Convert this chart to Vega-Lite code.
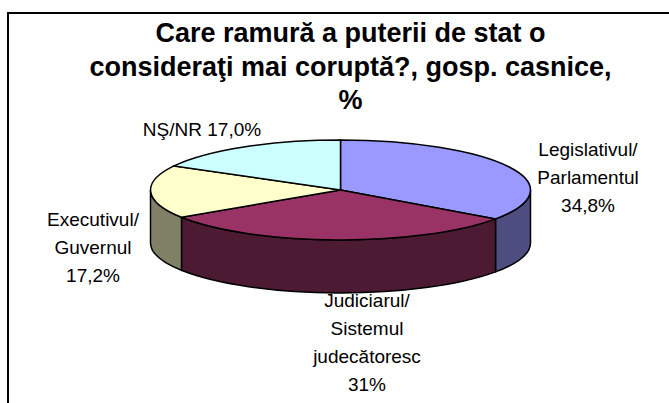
{"$schema":"https://vega.github.io/schema/vega-lite/v6.json","autosize":"none","padding":{"left":8,"top":13,"right":0,"bottom":0},"width":665,"height":400,"background":"white","view":{"stroke":"black","strokeWidth":2,"fill":"white"},"title":{"text":["Care ramură a puterii de stat o","consideraţi mai coruptă?, gosp. casnice,","%"],"font":"Liberation Sans","fontWeight":"bold","fontSize":27,"lineHeight":33.5,"color":"black","anchor":"middle","frame":"group","baseline":"alphabetic","dx":10,"dy":123,"offset":0},"data":{"values":[{"slice":"Legislativul/Parlamentul","value":34.8,"label":"Legislativul/\nParlamentul\n34,8%"},{"slice":"Judiciarul/Sistemul judecătoresc","value":31,"label":"Judiciarul/\nSistemul\njudecătoresc\n31%"},{"slice":"Executivul/Guvernul","value":17.2,"label":"Executivul/\nGuvernul\n17,2%"},{"slice":"NŞ/NR","value":17,"label":"NŞ/NR 17,0%"}]},"layer":[{"transform":[{"filter":"datum.slice==='Legislativul/Parlamentul'"}],"mark":{"type":"text","font":"Liberation Sans","fontSize":19,"lineHeight":28,"lineBreak":"\n","align":"center","baseline":"alphabetic","color":"black","dx":247.5,"dy":-57},"encoding":{"text":{"field":"label","type":"nominal"}}},{"transform":[{"filter":"datum.slice==='Judiciarul/Sistemul judecătoresc'"}],"mark":{"type":"text","font":"Liberation Sans","fontSize":19,"lineHeight":28,"lineBreak":"\n","align":"center","baseline":"alphabetic","color":"black","dx":26.5,"dy":94},"encoding":{"text":{"field":"label","type":"nominal"}}},{"transform":[{"filter":"datum.slice==='Executivul/Guvernul'"}],"mark":{"type":"text","font":"Liberation Sans","fontSize":19,"lineHeight":28,"lineBreak":"\n","align":"center","baseline":"alphabetic","color":"black","dx":-247.5,"dy":13},"encoding":{"text":{"field":"label","type":"nominal"}}},{"transform":[{"filter":"datum.slice==='NŞ/NR'"}],"mark":{"type":"text","font":"Liberation Sans","fontSize":19,"lineHeight":28,"lineBreak":"\n","align":"center","baseline":"alphabetic","color":"black","dx":-138.5,"dy":-77},"encoding":{"text":{"field":"label","type":"nominal"}}},{"transform":[{"filter":"datum.slice!=='NŞ/NR'"}],"mark":{"type":"point","filled":true,"opacity":1,"size":4,"stroke":"black","strokeWidth":1.5},"encoding":{"shape":{"field":"slice","type":"nominal","legend":null,"scale":{"domain":["Legislativul/Parlamentul","Judiciarul/Sistemul judecătoresc","Executivul/Guvernul"],"range":["M155,5.9A190,50,0,0,0,190,-23L190,30A190,50,0,0,1,155,58.9Z","M155,5.9A190,50,0,0,1,-159,4.3L-159,57.3A190,50,0,0,0,155,58.9Z","M-159,4.3A190,50,0,0,1,-190,-23L-190,30A190,50,0,0,0,-159,57.3Z"]}},"color":{"field":"slice","type":"nominal","legend":null,"scale":{"domain":["Legislativul/Parlamentul","Judiciarul/Sistemul judecătoresc","Executivul/Guvernul"],"range":["#4D4D80","#4D1A33","#808066"]}}}},{"mark":{"type":"point","filled":true,"opacity":1,"size":4,"stroke":"black","strokeWidth":1.5},"encoding":{"shape":{"field":"slice","type":"nominal","legend":null,"scale":{"domain":["Legislativul/Parlamentul","Judiciarul/Sistemul judecătoresc","Executivul/Guvernul","NŞ/NR"],"range":["M0,-23L0,-73A190,50,0,0,1,155,5.9Z","M0,-23L155,5.9A190,50,0,0,1,-159,4.3Z","M0,-23L-159,4.3A190,50,0,0,1,-166.5,-47.1Z","M0,-23L-166.5,-47.1A190,50,0,0,1,0,-73Z"]}},"color":{"field":"slice","type":"nominal","legend":null,"scale":{"domain":["Legislativul/Parlamentul","Judiciarul/Sistemul judecătoresc","Executivul/Guvernul","NŞ/NR"],"range":["#9999FF","#993366","#FFFFCC","#CCFFFF"]}}}}],"resolve":{"scale":{"color":"independent","shape":"independent"}}}
